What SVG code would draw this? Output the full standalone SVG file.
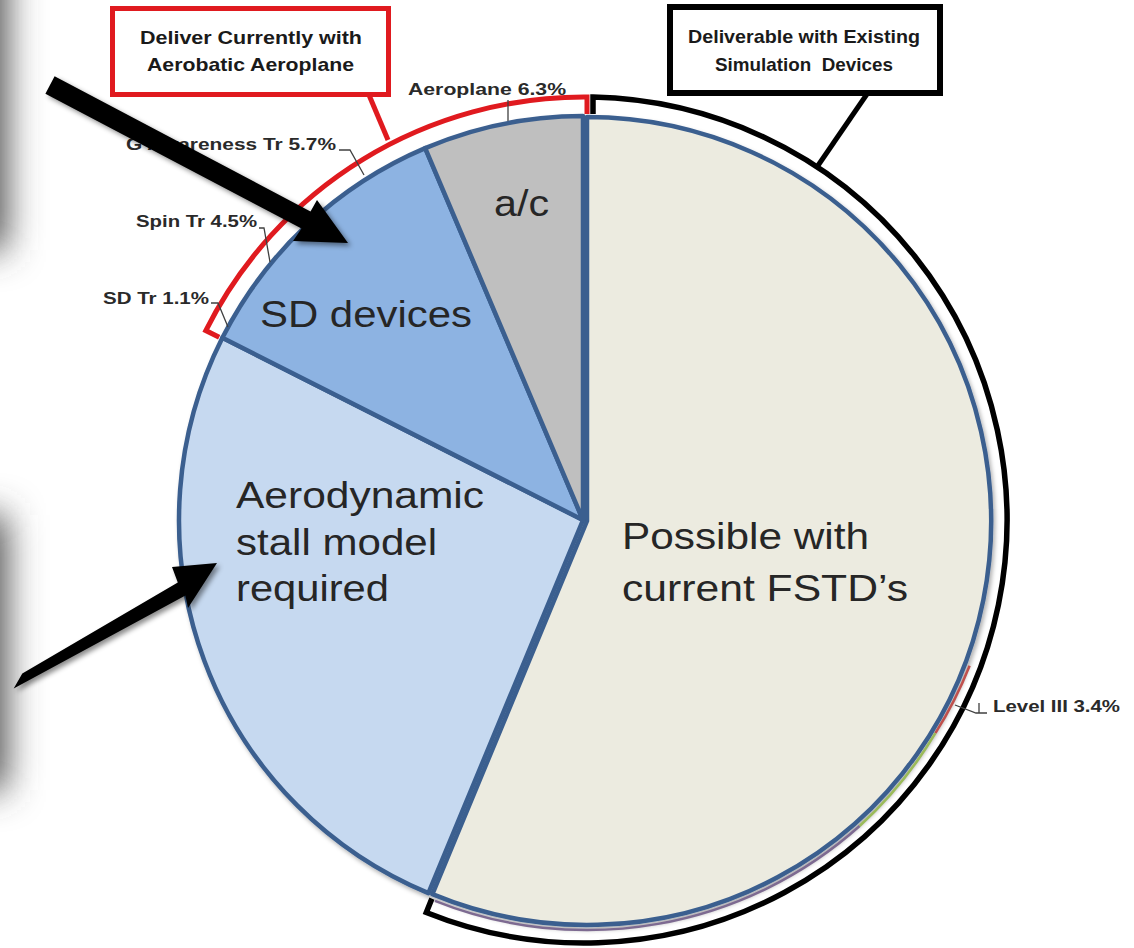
<svg xmlns="http://www.w3.org/2000/svg" width="1134" height="948" viewBox="0 0 1134 948">
<defs>
<style>
.lbl{font-family:"Liberation Sans",Arial,sans-serif;font-weight:bold;font-size:17px;fill:#2a2a2a}
.box{font-family:"Liberation Sans",Arial,sans-serif;font-weight:bold;font-size:19px;fill:#1a1a1a}
.big{font-family:"Liberation Sans",Arial,sans-serif;font-size:36px;fill:#262626}
.slice{stroke:#3b5f8f;stroke-width:4.5;stroke-linejoin:round}
.lead{fill:none;stroke:#404040;stroke-width:1.3}
</style>
<filter id="blur" filterUnits="userSpaceOnUse" x="-200" y="-200" width="400" height="1300"><feGaussianBlur stdDeviation="18"/></filter>
<filter id="sh" x="-0.2" y="-0.2" width="1.4" height="1.4"><feDropShadow dx="3" dy="3" stdDeviation="2.5" flood-color="#000" flood-opacity="0.45"/></filter>
<filter id="psh" x="-0.1" y="-0.1" width="1.2" height="1.2"><feDropShadow dx="2" dy="3" stdDeviation="2" flood-color="#000" flood-opacity="0.3"/></filter>
</defs>
<rect width="1134" height="948" fill="#ffffff"/>
<g id="side-shadows" fill="#4a4a4a" filter="url(#blur)">
<rect x="-100" y="-60" width="106" height="310"/>
<rect x="-100" y="515" width="106" height="275"/>
</g>
<g id="pie" filter="url(#psh)">
<path id="slice-fstd" class="slice" fill="#ecebe0" d="M587,521 L587,117 A404,404 0 1,1 432.4,894.2 Z"/>
<path id="slice-aero" class="slice" fill="#c6d9f0" d="M583,520 L428.4,893.2 A404,404 0 0,1 222.4,337.8 Z"/>
<path id="slice-sd" class="slice" fill="#8db3e2" d="M583,520 L222.4,337.8 A404,404 0 0,1 425.2,148.1 Z"/>
<path id="slice-ac" class="slice" fill="#bfbfbf" d="M583,520 L425.2,148.1 A404,404 0 0,1 583,116 Z"/>
</g>
<g id="inner-ring" fill="none" stroke-width="2.5">
<path stroke="#c0504d" d="M969.6,665.7 A409,409 0 0,1 935.4,733.2"/>
<path stroke="#9bbb59" d="M935.4,733.2 A409,409 0 0,1 859.6,826.0"/>
<path stroke="#7d6a91" d="M859.6,826.0 A409,409 0 0,1 435,900.8"/>
</g>
<g id="bracket-aerobatic">
<path fill="none" stroke="#e01a1f" stroke-width="5" stroke-linejoin="miter" d="M219.2,337.3 L205.8,330.6 A423,423 0 0,1 587,97 L587,114"/>
</g>
<g id="bracket-simulation">
<path fill="none" stroke="#000" stroke-width="5.5" stroke-linejoin="miter" d="M593,114 L593,97.1 A423,423 0 1,1 426.3,912.5 L431.9,898.6"/>
</g>
<g id="box-aerobatic">
<rect x="112.5" y="8.5" width="276" height="86" fill="#fff" stroke="#e01a1f" stroke-width="5"/>
<text class="box" x="140" y="44" textLength="222" lengthAdjust="spacingAndGlyphs">Deliver Currently with</text>
<text class="box" x="147" y="71" textLength="207" lengthAdjust="spacingAndGlyphs">Aerobatic Aeroplane</text>
</g>
<g id="box-simulation">
<rect x="670" y="7" width="270" height="86" fill="#fff" stroke="#000" stroke-width="6"/>
<text class="box" x="688" y="43" textLength="232" lengthAdjust="spacingAndGlyphs">Deliverable with Existing</text>
<text class="box" x="715" y="71" textLength="178" lengthAdjust="spacingAndGlyphs" xml:space="preserve">Simulation  Devices</text>
</g>
<g id="connectors">
<line x1="369" y1="95" x2="388" y2="140" stroke="#e01a1f" stroke-width="5"/>
<line x1="867" y1="94" x2="817" y2="167" stroke="#000" stroke-width="5"/>
<polyline class="lead" points="508,100 508,121"/>
<polyline class="lead" points="339,150 350,150 364,175"/>
<polyline class="lead" points="259,228 264,228 270,262"/>
<polyline class="lead" points="211,303 218,303 228,327"/>
<polyline class="lead" points="955,705 976,713 979,713 979,703 979,713 987,713"/>
</g>
<g id="labels">
<text class="lbl" x="408" y="95" textLength="158" lengthAdjust="spacingAndGlyphs">Aeroplane 6.3%</text>
<text class="lbl" x="126" y="150" textLength="210" lengthAdjust="spacingAndGlyphs">G Awareness Tr 5.7%</text>
<text class="lbl" x="136" y="227" textLength="121" lengthAdjust="spacingAndGlyphs">Spin Tr 4.5%</text>
<text class="lbl" x="103" y="304" textLength="106" lengthAdjust="spacingAndGlyphs">SD Tr 1.1%</text>
<text class="lbl" x="993" y="712" textLength="127" lengthAdjust="spacingAndGlyphs">Level III 3.4%</text>
</g>
<g id="slice-texts">
<text class="big" x="494" y="216" textLength="55" lengthAdjust="spacingAndGlyphs">a/c</text>
<text class="big" x="260" y="327" textLength="212" lengthAdjust="spacingAndGlyphs">SD devices</text>
<text class="big" x="236" y="508" textLength="248" lengthAdjust="spacingAndGlyphs">Aerodynamic</text>
<text class="big" x="236" y="555" textLength="201" lengthAdjust="spacingAndGlyphs">stall model</text>
<text class="big" x="236" y="601" textLength="153" lengthAdjust="spacingAndGlyphs">required</text>
<text class="big" x="622" y="549" textLength="247" lengthAdjust="spacingAndGlyphs">Possible with</text>
<text class="big" x="622" y="601" textLength="286" lengthAdjust="spacingAndGlyphs">current FSTD’s</text>
</g>
<g id="arrows" filter="url(#sh)">
<path id="arrow-sd" fill="#000" d="M45.4,93.8 L54.6,76.2 L310.5,211.5 L317,200 L348,243 L293,241 L301.5,228.5 Z"/>
<path id="arrow-aero" fill="#000" d="M13.7,688.5 L22.3,673.5 L177.8,582.5 L172,567 L217,563 L188,608 L185.4,595.4 Z"/>
</g>
</svg>
